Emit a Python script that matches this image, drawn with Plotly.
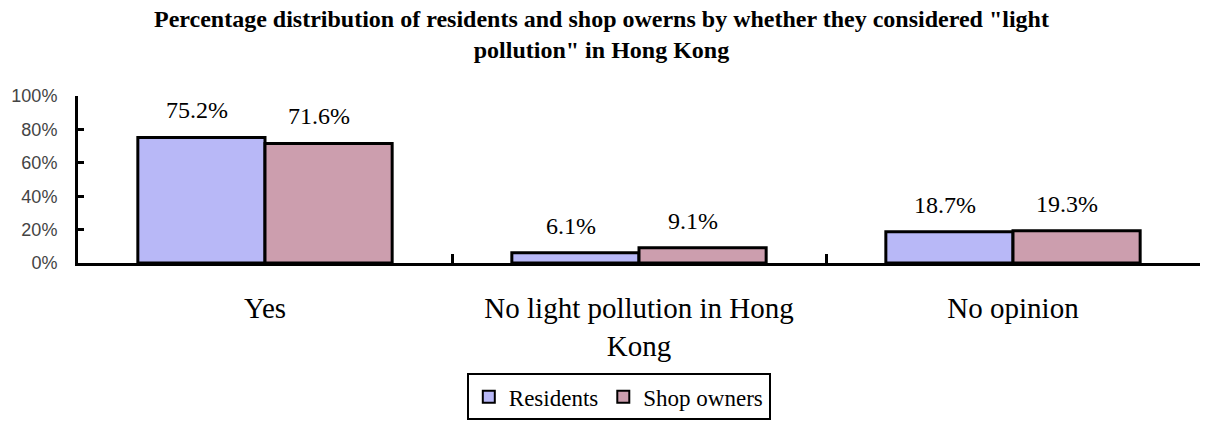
import plotly.graph_objects as go

categories = ["Yes", "No light pollution in Hong<br>Kong", "No opinion"]
residents = [75.2, 6.1, 18.7]
shop_owners = [71.6, 9.1, 19.3]
series_names = ["Residents", "Shop owners"]
y_ticks = [0, 20, 40, 60, 80, 100]
y_tick_labels = ["0%", "20%", "40%", "60%", "80%", "100%"]
title_text = ('<b>Percentage distribution of residents and shop owerns by whether they considered "light'
              '<br>pollution" in Hong Kong</b>')

serif = "Liberation Serif, Times New Roman, serif"

fig = go.Figure()
fig.add_trace(go.Bar(
    x=categories, y=residents, name=series_names[0],
    marker=dict(color="#b8b8f7", line=dict(color="black", width=3)),
))
fig.add_trace(go.Bar(
    x=categories, y=shop_owners, name=series_names[1],
    marker=dict(color="#cc9eae", line=dict(color="black", width=3)),
))

annotations = []
for vals, shift in ((residents, -68), (shop_owners, 54)):
    for c, v in zip(categories, vals):
        annotations.append(dict(
            x=c, y=v, xref="x", yref="y", text=f"{v:.1f}%",
            showarrow=False, xshift=shift, yshift=27, yanchor="middle",
            font=dict(family=serif, size=24, color="black"),
        ))

annotations.append(dict(
    text=title_text, xref="paper", yref="paper", x=0.5, y=1.55, xshift=-38,
    xanchor="center", yanchor="top", showarrow=False,
    font=dict(family=serif, size=24, color="black"),
))

fig.update_layout(
    width=1207, height=428,
    margin=dict(l=78, r=7, t=96, b=161),
    paper_bgcolor="white", plot_bgcolor="white",
    barmode="group", bargap=0.32, bargroupgap=0,
    annotations=annotations,
    showlegend=True,
    legend=dict(
        orientation="h", x=0.482, xanchor="center", y=-0.66, yanchor="top",
        bordercolor="black", borderwidth=2,
        font=dict(family=serif, size=23, color="black"),
        itemsizing="constant", traceorder="normal",
    ),
    xaxis=dict(
        type="category", showline=True, linecolor="black", linewidth=3,
        ticks="inside", tickson="boundaries", ticklen=9, tickwidth=3, tickcolor="black",
        tickfont=dict(family=serif, size=29, color="black"),
        ticklabelstandoff=17, showgrid=False,
    ),
    yaxis=dict(
        range=[0, 100], tickvals=y_ticks, ticktext=y_tick_labels,
        showline=True, linecolor="black", linewidth=3,
        ticks="inside", ticklen=6, tickwidth=3, tickcolor="black",
        tickfont=dict(family="Liberation Sans, Arial, sans-serif", size=18, color="#444444"),
        ticklabelstandoff=14,
        showgrid=False, zeroline=False,
    ),
)

fig.write_html("out.html")
